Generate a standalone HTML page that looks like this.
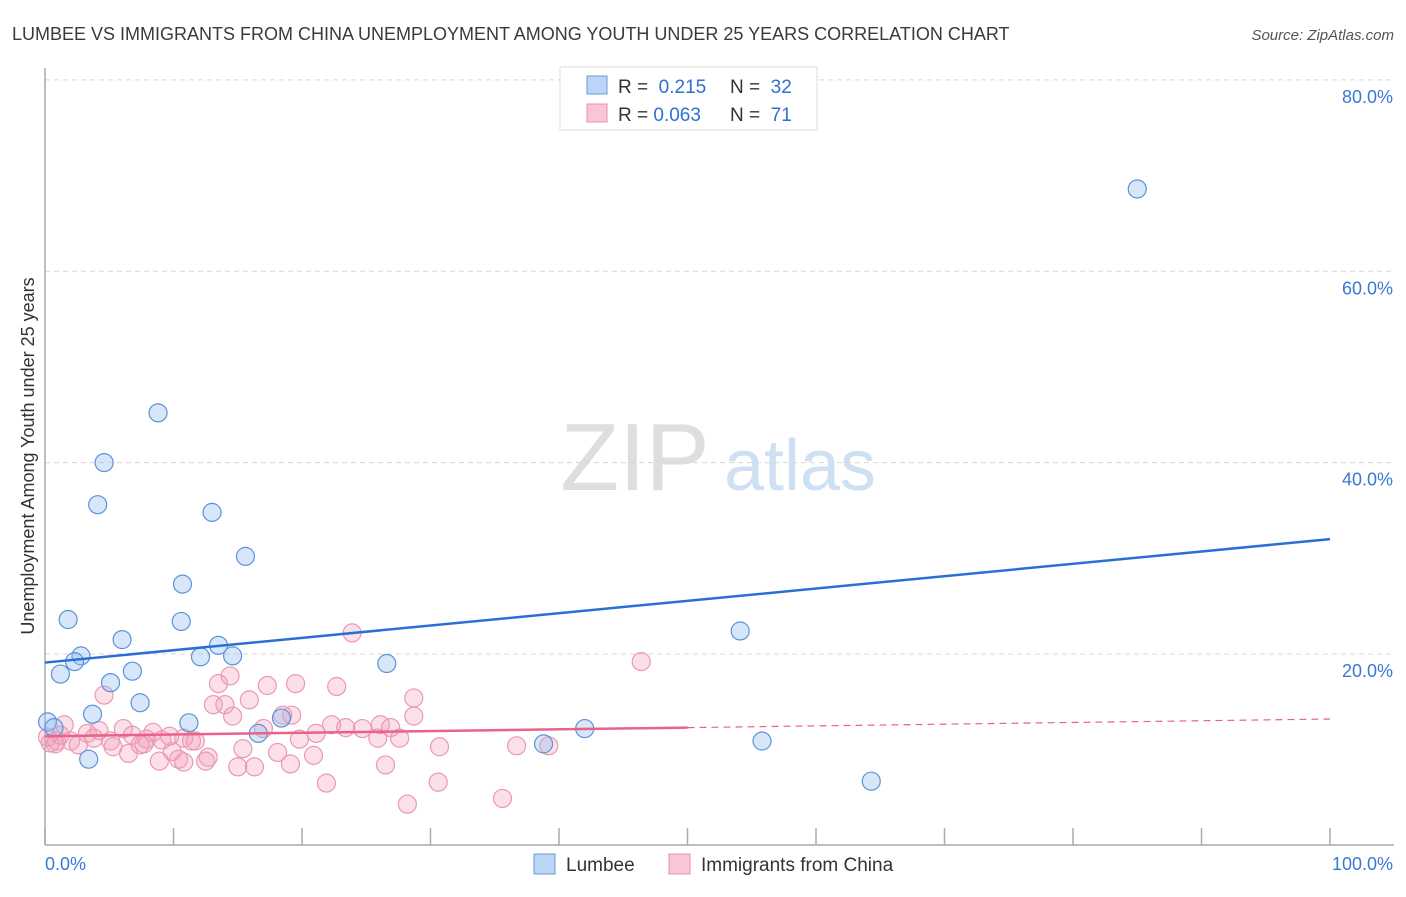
<!DOCTYPE html>
<html><head><meta charset="utf-8"><style>
body{margin:0;background:#fff;font-family:"Liberation Sans",sans-serif;}
svg text{font-family:"Liberation Sans",sans-serif;}
</style></head><body>
<svg id="chart" width="1406" height="892" xmlns="http://www.w3.org/2000/svg">
<text x="12" y="40" font-size="18" fill="#3a3a3a">LUMBEE VS IMMIGRANTS FROM CHINA UNEMPLOYMENT AMONG YOUTH UNDER 25 YEARS CORRELATION CHART</text>
<text x="1394" y="40" font-size="15" fill="#555" font-style="italic" text-anchor="end">Source: ZipAtlas.com</text>
<g>
<text x="635" y="490" font-size="96" fill="#dedede" font-family="Liberation Serif" text-anchor="middle">ZIP</text>
<text x="800" y="490" font-size="72" fill="#cfe0f3" text-anchor="middle">atlas</text>
</g>
<g id="grid"></g>
<g id="axes"></g>
<g id="marks"></g>
<text transform="translate(34,456) rotate(-90)" font-size="18" fill="#333" text-anchor="middle">Unemployment Among Youth under 25 years</text>
<g>
<rect x="560" y="67" width="257" height="63" fill="#fff" stroke="#ddd"/>
<rect x="587" y="76" width="20" height="18" fill="#bcd4f5" stroke="#6a9ad8"/>
<rect x="587" y="104" width="20" height="18" fill="#f9c6d5" stroke="#e98fac"/>
<text x="618" y="93" font-size="19" fill="#333">R = <tspan fill="#2f6fd0">&#160;0.215</tspan></text>
<text x="730" y="93" font-size="19" fill="#333">N = <tspan fill="#2f6fd0">&#160;32</tspan></text>
<text x="618" y="121" font-size="19" fill="#333">R = <tspan fill="#2f6fd0">0.063</tspan></text>
<text x="730" y="121" font-size="19" fill="#333">N = <tspan fill="#2f6fd0">&#160;71</tspan></text>
</g>
<g>
<rect x="534" y="854" width="21" height="20" fill="#bcd4f5" stroke="#6a9ad8"/>
<text x="566" y="871" font-size="19" fill="#333">Lumbee</text>
<rect x="669" y="854" width="21" height="20" fill="#f9c6d5" stroke="#e98fac"/>
<text x="701" y="871" font-size="19" fill="#333">Immigrants from China</text>
</g>
</svg>
<script>
const blueX=[8.8,4.6,4.1,13.0,15.6,10.7,1.8,10.6,6.0,13.5,2.8,2.3,14.6,12.1,26.6,6.8,1.2,5.1,7.4,3.7,11.2,0.2,0.7,18.4,16.6,42.0,38.8,55.8,54.1,85.0,64.3,3.4];
const blueY=[45.2,40.0,35.6,34.8,30.2,27.3,23.6,23.4,21.5,20.9,19.8,19.2,19.8,19.7,19.0,18.2,17.9,17.0,14.9,13.7,12.8,12.9,12.3,13.3,11.7,12.2,10.6,10.9,22.4,68.6,6.7,9.0];
const pinkX=[23.9,46.4,4.6,14.4,13.5,17.3,19.5,22.7,28.7,13.1,14.0,15.9,14.6,19.2,28.7,18.5,1.5,6.1,8.4,22.3,23.4,24.7,26.1,26.9,21.1,3.3,0.2,0.9,2.0,3.8,5.1,6.8,7.9,9.1,10.8,11.7,19.8,25.9,27.6,0.8,2.6,5.3,7.7,11.4,30.7,36.7,39.2,6.5,9.9,10.4,12.7,15.4,18.1,20.9,8.9,10.8,12.5,15.0,16.3,19.1,26.5,21.9,30.6,28.2,35.6,0.4,1.2,4.2,7.4,9.7,17.0];
const pinkY=[22.2,19.2,15.7,17.7,16.9,16.7,16.9,16.6,15.4,14.7,14.7,15.2,13.5,13.6,13.5,13.6,12.6,12.2,11.8,12.6,12.3,12.2,12.6,12.3,11.7,11.7,11.3,10.9,10.9,11.2,10.9,11.5,11.1,11.0,11.2,10.9,11.1,11.2,11.2,10.6,10.5,10.3,10.6,10.9,10.3,10.4,10.4,9.6,9.8,9.0,9.2,10.1,9.7,9.4,8.8,8.7,8.8,8.2,8.2,8.5,8.4,6.5,6.6,4.3,4.9,10.7,11.5,12.0,10.5,11.4,12.2];
const blueTrend=[19.1,32.0];
const pinkTrend=[11.4,13.2];
const pinkSolidEnd=50;
const yTicks=[20,40,60,80];
const yTickLabels=["20.0%","40.0%","60.0%","80.0%"];
const xTicks=[0,10,20,30,40,50,60,70,80,90,100];
const xEndLabels=["0.0%","100.0%"];

const NS="http://www.w3.org/2000/svg";
const X=v=>45+v*12.85;
const Y=v=>845.3-v*9.5675;
function mk(tag,attrs,parent){const e=document.createElementNS(NS,tag);for(const k in attrs)e.setAttribute(k,attrs[k]);parent.appendChild(e);return e;}
const grid=document.getElementById('grid'),axes=document.getElementById('axes'),marks=document.getElementById('marks');
yTicks.forEach((t,i)=>{
 const l=mk('line',{x1:45,x2:1394,y1:Y(t),y2:Y(t),stroke:'#d8d8d8','stroke-dasharray':'5,4'},grid);
 
 
 const tx=mk('text',{x:1393,y:Y(t)+23,'font-size':18,fill:'#3a78d4','text-anchor':'end'},grid);
 tx.textContent=yTickLabels[i];
 
 
});
const ya=mk('line',{x1:45,x2:45,y1:68,y2:845,stroke:'#aaa','stroke-width':1.5},axes);


const xa=mk('line',{x1:45,x2:1394,y1:845,y2:845,stroke:'#aaa','stroke-width':1.5},axes);


xTicks.forEach(t=>{
 const l=mk('line',{x1:X(t),x2:X(t),y1:828,y2:845,stroke:'#aaa','stroke-width':1.5},axes);
 
 
});
const xl0=mk('text',{x:45,y:870,'font-size':18,fill:'#3a78d4'},axes);
xl0.textContent=xEndLabels[0];


const xl1=mk('text',{x:1393,y:870,'font-size':18,fill:'#3a78d4','text-anchor':'end'},axes);
xl1.textContent=xEndLabels[1];


pinkX.forEach((x,i)=>{
 const c=mk('circle',{cx:X(x),cy:Y(pinkY[i]),r:9,fill:'rgba(244,160,186,0.32)',stroke:'#eb98b2','stroke-width':1.2},marks);
 
 
});
blueX.forEach((x,i)=>{
 const c=mk('circle',{cx:X(x),cy:Y(blueY[i]),r:9,fill:'rgba(150,188,238,0.38)',stroke:'#5b93d9','stroke-width':1.2},marks);
 
 
});
const pAt=v=>pinkTrend[0]+(pinkTrend[1]-pinkTrend[0])*v/100;
const pl=mk('line',{x1:X(0),y1:Y(pAt(0)),x2:X(pinkSolidEnd),y2:Y(pAt(pinkSolidEnd)),stroke:'#e8628e','stroke-width':2.5},marks);


const pd=mk('line',{x1:X(pinkSolidEnd),y1:Y(pAt(pinkSolidEnd)),x2:X(100),y2:Y(pAt(100)),stroke:'#e8628e','stroke-width':1.2,'stroke-dasharray':'7,5'},marks);


const bl=mk('line',{x1:X(0),y1:Y(blueTrend[0]),x2:X(100),y2:Y(blueTrend[1]),stroke:'#2a6fd6','stroke-width':2.5},marks);


</script>
</body></html>
